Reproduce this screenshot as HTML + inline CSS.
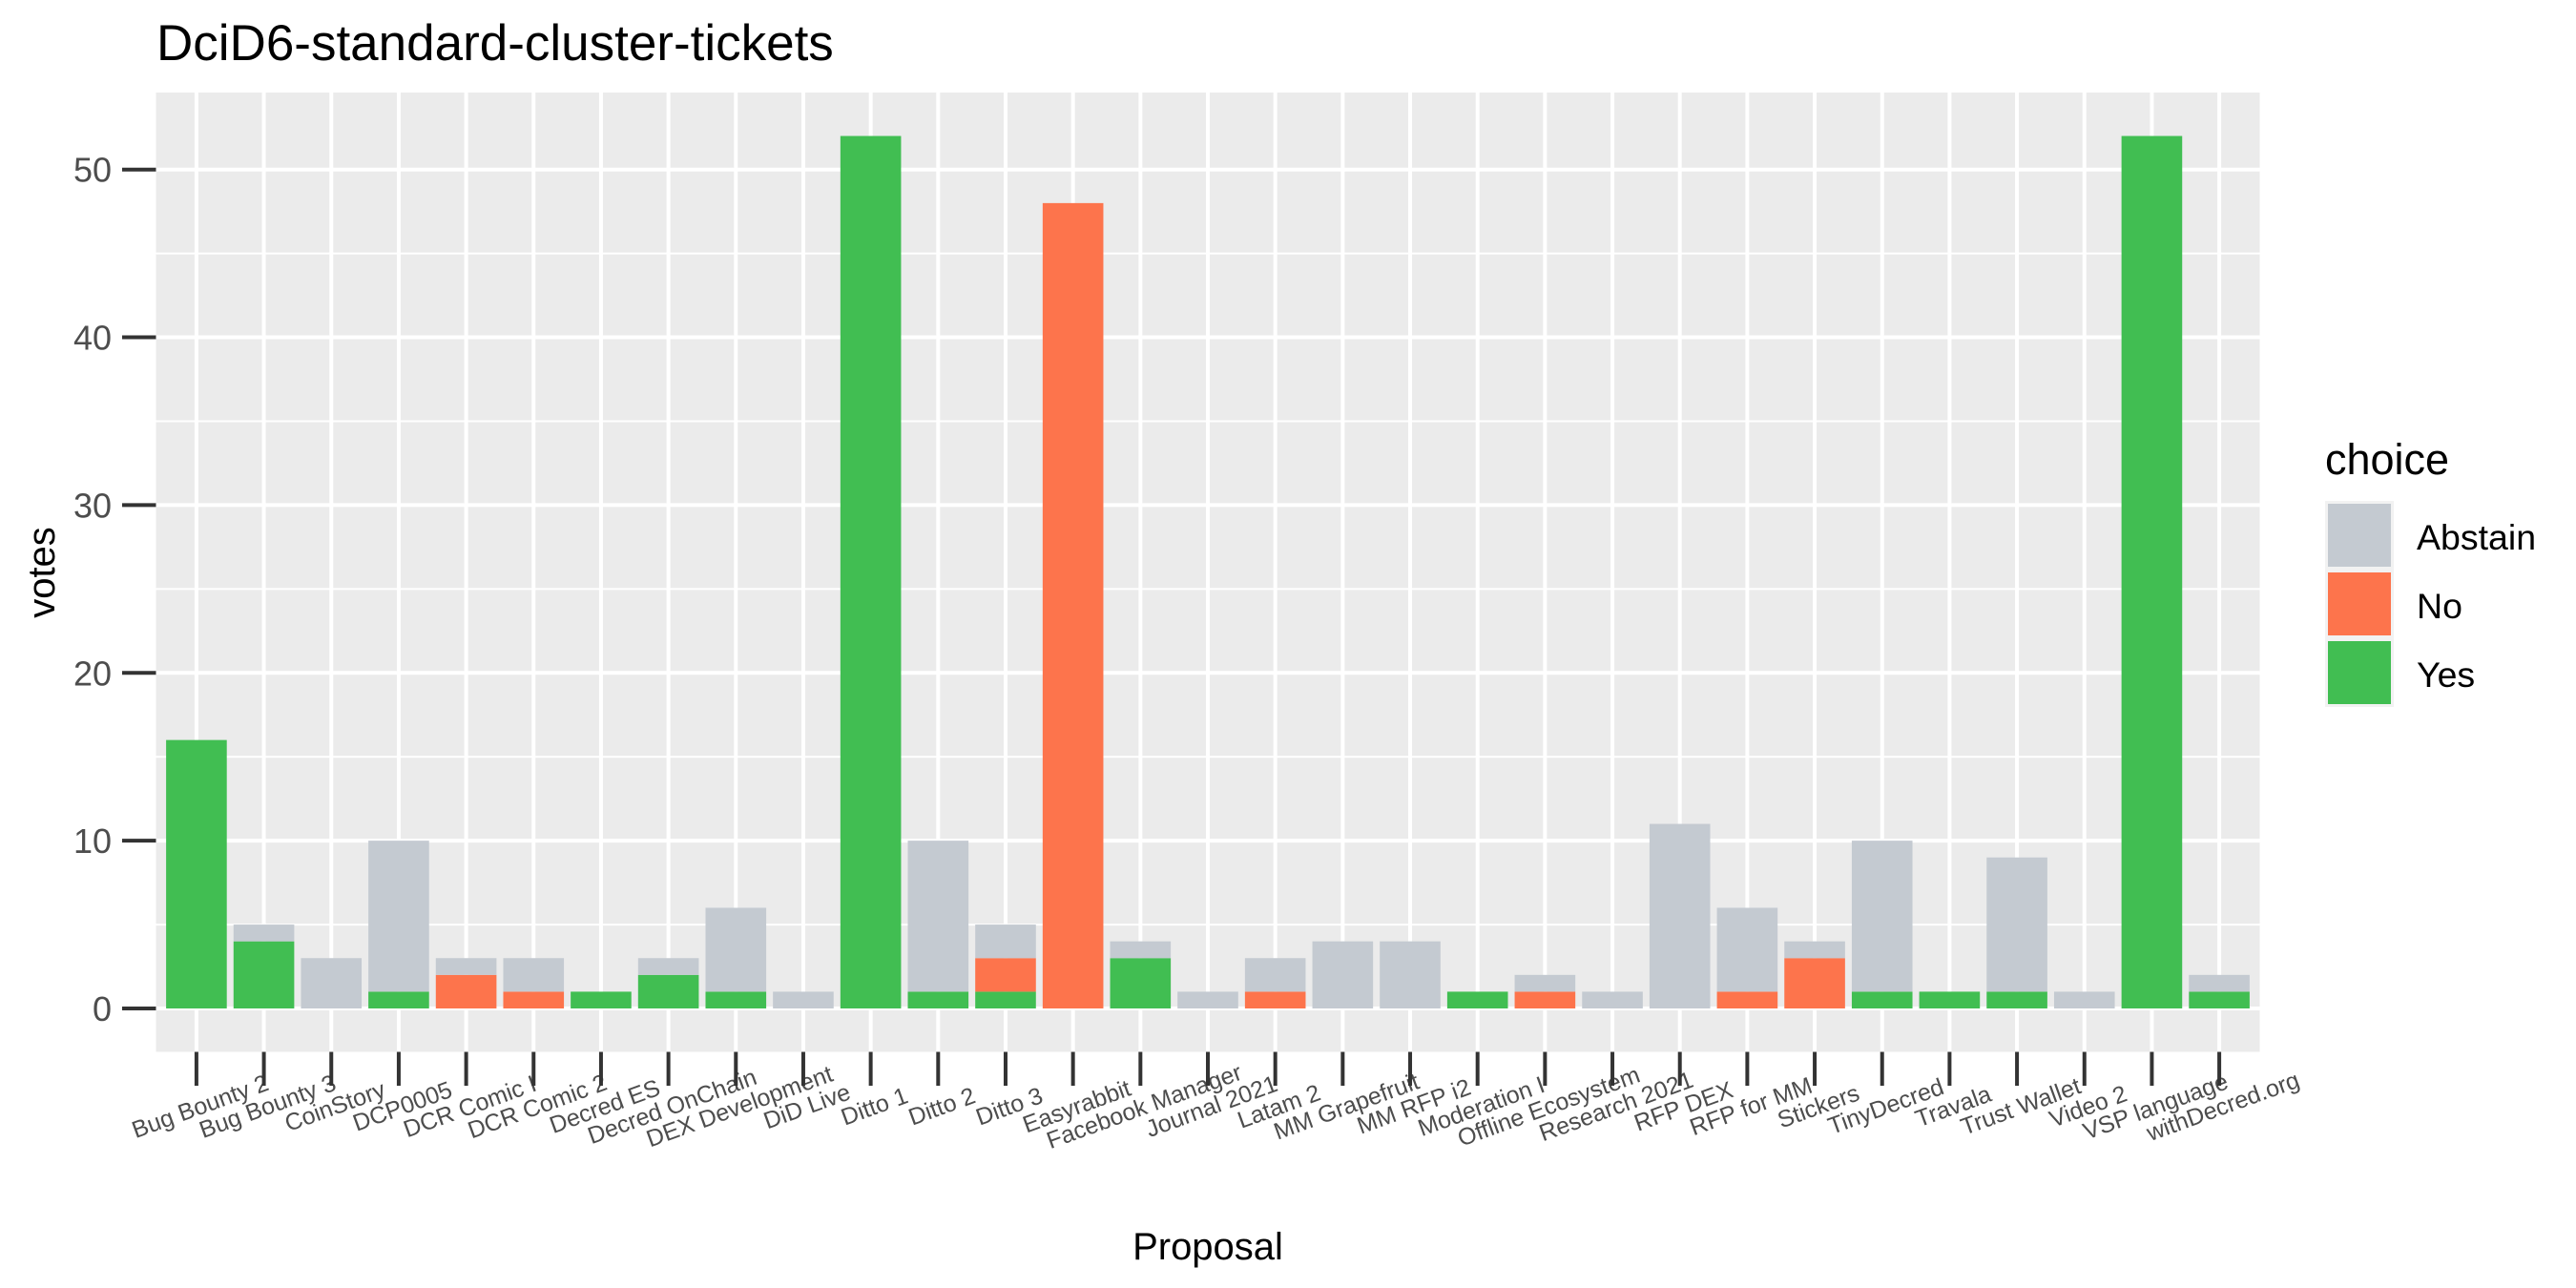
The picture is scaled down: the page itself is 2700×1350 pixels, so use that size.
<!DOCTYPE html>
<html><head><meta charset="utf-8"><style>
html,body{margin:0;padding:0;background:#fff;}
svg{display:block;font-family:"Liberation Sans",Arial,sans-serif;}
</style></head><body>
<svg id="chart" width="2700" height="1350" viewBox="0 0 2700 1350" xmlns="http://www.w3.org/2000/svg">
<rect width="2700" height="1350" fill="#fff"/>
<text x="164" y="63" font-size="53" fill="#000">DciD6-standard-cluster-tickets</text>
<rect x="163.5" y="97" width="2205" height="1005.5" fill="#ebebeb"/>
<g id="grid"></g>
<g id="bars"></g>
<g id="yaxis"></g>
<g id="xaxis"></g>
<text transform="translate(57,600) rotate(-90)" text-anchor="middle" font-size="40" fill="#000">votes</text>
<text x="1266" y="1320" text-anchor="middle" font-size="40" fill="#000">Proposal</text>
<g>
<text x="2437" y="497" font-size="45" fill="#000">choice</text>
<rect x="2437" y="525" width="72" height="216" fill="#f2f2f2"/>
<rect x="2440" y="528" width="66" height="66" fill="#c4cad1"/>
<rect x="2440" y="600" width="66" height="66" fill="#fd744c"/>
<rect x="2440" y="672" width="66" height="66" fill="#41be52"/>
<text x="2533" y="576" font-size="37.5" fill="#000">Abstain</text>
<text x="2533" y="648" font-size="37.5" fill="#000">No</text>
<text x="2533" y="720" font-size="37.5" fill="#000">Yes</text>
</g>
</svg>
<script>
const categories = ["Bug Bounty 2","Bug Bounty 3","CoinStory","DCP0005","DCR Comic I","DCR Comic 2","Decred ES","Decred OnChain","DEX Development","DiD Live","Ditto 1","Ditto 2","Ditto 3","Easyrabbit","Facebook Manager","Journal 2021","Latam 2","MM Grapefruit","MM RFP i2","Moderation I","Offline Ecosystem","Research 2021","RFP DEX","RFP for MM","Stickers","TinyDecred","Travala","Trust Wallet","Video 2","VSP language","withDecred.org"];
const yesVotes =     [16,4,0,1,0,0,1,2,1,0,52,1,1,0,3,0,0,0,0,1,0,0,0,0,0,1,1,1,0,52,1];
const noVotes =      [0,0,0,0,2,1,0,0,0,0,0,0,2,48,0,0,1,0,0,0,1,0,0,1,3,0,0,0,0,0,0];
const abstainVotes = [0,1,3,9,1,2,0,1,5,1,0,9,2,0,1,1,2,4,4,0,1,1,11,5,1,9,0,8,1,0,1];
const yTicks = [0,10,20,30,40,50];
const yMinor = [5,15,25,35,45];

const NS="http://www.w3.org/2000/svg";
const pLeft=163.5, pRight=2368.5, pTop=97, pBottom=1102.5;
const y0=1057, yUnit=(1057-177.7)/50;
const step=(pRight-pLeft)/(categories.length-1+1.2);
function xPos(i){return pLeft+(0.6+i)*step;}
function yPos(v){return y0-v*yUnit;}
function mk(tag,attrs,parent){const e=document.createElementNS(NS,tag);for(const k in attrs)e.setAttribute(k,attrs[k]);parent.appendChild(e);return e;}
const grid=document.getElementById('grid'),bars=document.getElementById('bars'),ya=document.getElementById('yaxis'),xa=document.getElementById('xaxis');
yMinor.forEach(v=>{const l=mk('line',{x1:pLeft,x2:pRight,y1:yPos(v),y2:yPos(v),stroke:'#fff','stroke-width':2},grid);

});
yTicks.forEach(v=>{const l=mk('line',{x1:pLeft,x2:pRight,y1:yPos(v),y2:yPos(v),stroke:'#fff','stroke-width':4},grid);


const t=mk('line',{x1:128,x2:pLeft,y1:yPos(v),y2:yPos(v),stroke:'#333','stroke-width':4},ya);


const tx=mk('text',{x:117,y:yPos(v)+13,'text-anchor':'end','font-size':36,fill:'#4d4d4d'},ya);
tx.textContent=v;

});
const bw=step*0.9;
categories.forEach((c,i)=>{const x=xPos(i);
const g=mk('line',{x1:x,x2:x,y1:pTop,y2:pBottom,stroke:'#fff','stroke-width':4},grid);


let base=0;
[[yesVotes[i],'#41be52','yes'],[noVotes[i],'#fd744c','no'],[abstainVotes[i],'#c4cad1','abstain']].forEach(([v,col,nm])=>{
 if(v>0){const r=mk('rect',{x:x-bw/2,y:yPos(base+v),width:bw,height:v*yUnit,fill:col},bars);
 
 }
 base+=v;});
const t=mk('line',{x1:x,x2:x,y1:pBottom,y2:1138,stroke:'#333','stroke-width':4},xa);


const tx=mk('text',{transform:`translate(${x+4},1160) rotate(-20)`,'text-anchor':'middle','dominant-baseline':'central','font-size':25,fill:'#4d4d4d'},xa);
tx.textContent=c;

});
</script>
</body></html>
